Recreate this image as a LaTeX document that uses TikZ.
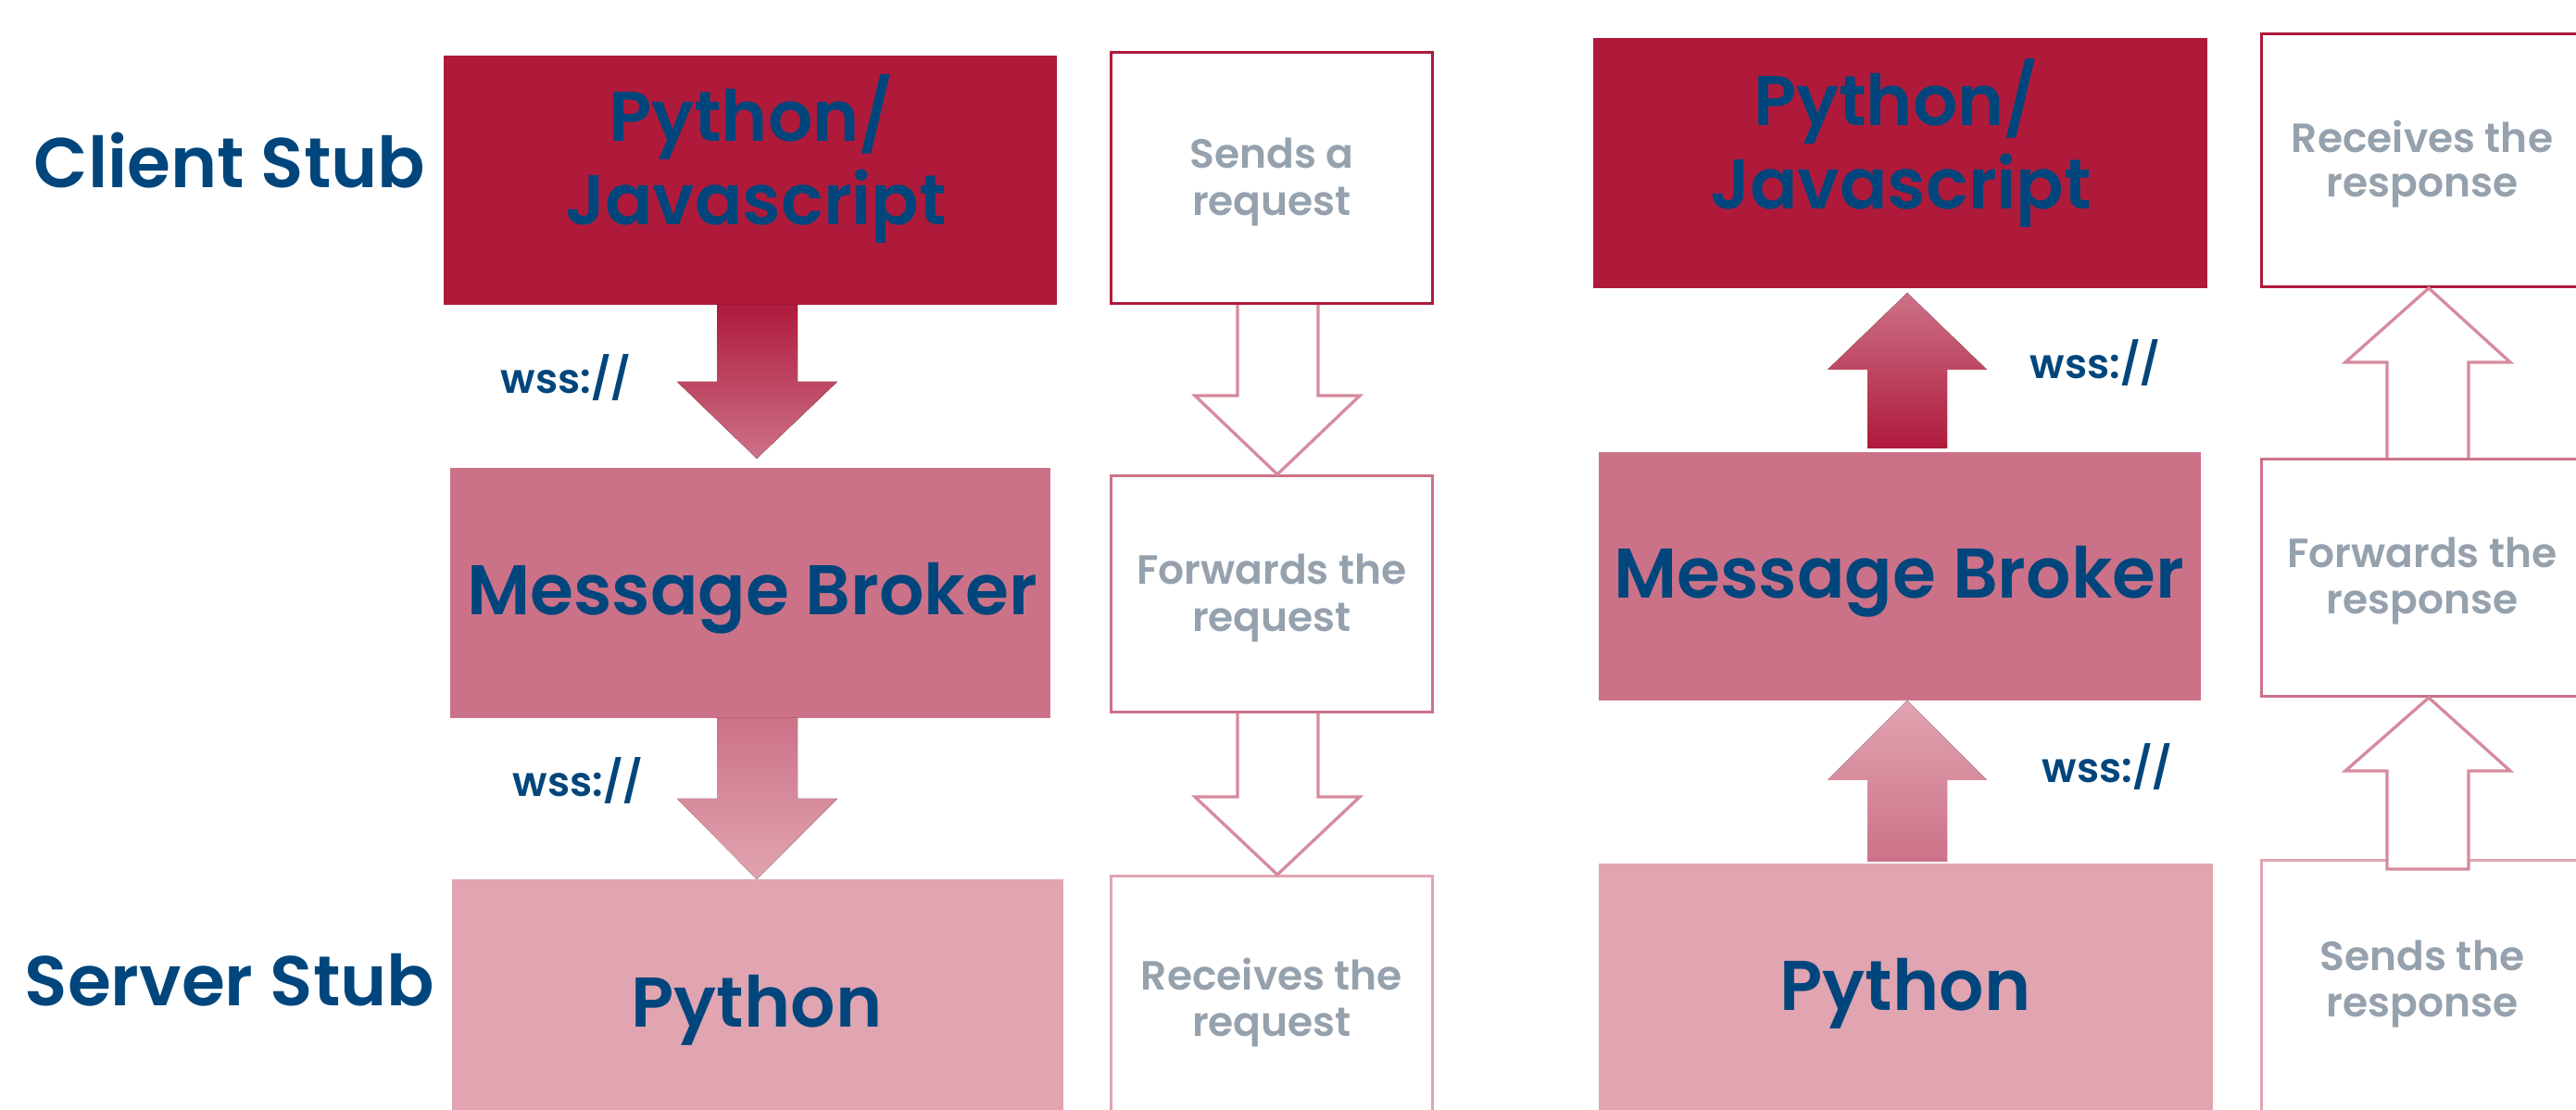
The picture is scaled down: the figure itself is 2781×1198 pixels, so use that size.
\documentclass[tikz,border=0pt]{standalone}
\usepackage{fontspec}
\setmainfont{Poppins}[BoldFont={Poppins SemiBold}]
\definecolor{cDark}{HTML}{AF1A3B}
\definecolor{cMid}{HTML}{CC7288}
\definecolor{cLight}{HTML}{E1A4B1}
\definecolor{cBlue}{HTML}{00467C}
\definecolor{cGrey}{HTML}{95A1AD}
\definecolor{cLine}{HTML}{D68B9D}
\begin{document}
\begin{tikzpicture}[x=0.01cm,y=-0.01cm,
  fbox/.style={rectangle, inner sep=0pt, outer sep=0pt},
  obox/.style={rectangle, inner sep=0pt, outer sep=0pt, draw, line width=0.035cm, fill=white},
  big/.style={text=cBlue, font=\fontsize{21.6}{26}\selectfont\bfseries, anchor=base, inner sep=0pt},
  small/.style={text=cGrey, font=\fontsize{12.5}{15}\selectfont\bfseries, anchor=base, inner sep=0pt},
  proto/.style={text=cBlue, font=\fontsize{12.6}{15}\selectfont\bfseries, anchor=base, inner sep=0pt},
  oarrow/.style={draw=cLine, line width=0.033cm, line join=miter},
]
\useasboundingbox (0,0) rectangle (2781,1198);

% ---------- left panel: filled boxes ----------
\node[fbox, fill=cDark,  minimum width=6.62cm, minimum height=2.69cm] (L1) at (810,194.5) {};
\node[fbox, fill=cMid,   minimum width=6.48cm, minimum height=2.70cm] (L2) at (810,640) {};
\node[fbox, fill=cLight, minimum width=6.60cm, minimum height=2.66cm] (L3) at (818,1082) {};

% ---------- left panel: outlined boxes ----------
\node[obox, draw=cDark,  minimum width=3.47cm, minimum height=2.71cm] (O1) at (1373,192) {};
\node[obox, draw=cMid,   minimum width=3.47cm, minimum height=2.55cm] (O2) at (1373,641) {};
\node[obox, draw=cLight, minimum width=3.47cm, minimum height=2.695cm] (O3) at (1373,1080.25) {};

% ---------- right panel: filled boxes ----------
\node[fbox, fill=cDark,  minimum width=6.63cm, minimum height=2.70cm] (R1) at (2051.5,176) {};
\node[fbox, fill=cMid,   minimum width=6.50cm, minimum height=2.68cm] (R2) at (2051,622) {};
\node[fbox, fill=cLight, minimum width=6.63cm, minimum height=2.83cm] (R3) at (2057.5,1073.5) {};

% ---------- right panel: outlined boxes ----------
\node[obox, draw=cDark,  minimum width=3.47cm, minimum height=2.73cm] (P1) at (2615,173) {};
\node[obox, draw=cMid,   minimum width=3.47cm, minimum height=2.56cm] (P2) at (2615,623.5) {};
\node[obox, draw=cLight, minimum width=3.47cm, minimum height=2.865cm] (P3) at (2615,1071.75) {};

% ---------- filled block arrows ----------
\fill[top color=cDark, bottom color=cMid]
  (774,329) -- (861,329) -- (861,412) -- (904,412) -- (817,495) -- (731,412) -- (774,412) -- cycle;
\fill[top color=cMid, bottom color=cLight]
  (774,775) -- (861,775) -- (861,862) -- (904,862) -- (817,949) -- (731,862) -- (774,862) -- cycle;
\fill[top color=cMid, bottom color=cDark]
  (2016,484) -- (2102,484) -- (2102,399) -- (2145,399) -- (2059,316) -- (1973,399) -- (2016,399) -- cycle;
\fill[top color=cLight, bottom color=cMid]
  (2016,930) -- (2102,930) -- (2102,842) -- (2145,842) -- (2059,756) -- (1973,842) -- (2016,842) -- cycle;

% ---------- outlined block arrows ----------
\draw[oarrow] (1336,329) -- (1336,427) -- (1290,427) -- (1379,512) -- (1468,427) -- (1423,427) -- (1423,329);
\draw[oarrow] (1336,770) -- (1336,860) -- (1290,860) -- (1379,944) -- (1468,860) -- (1423,860) -- (1423,770);
\draw[oarrow] (2577,494) -- (2577,391) -- (2532,391) -- (2622,311) -- (2710,391) -- (2665,391) -- (2665,494);
\draw[oarrow, fill=white] (2577,938) -- (2577,832) -- (2532,832) -- (2622,753) -- (2710,832) -- (2665,832) -- (2665,938) -- cycle;

% ---------- labels ----------
\node[big] (cs) at (248,203) {Client Stub};
\node[big] (ss) at (248,1086) {Server Stub};

\node[big] (l1a) at (811,153) {Python/};
\node[big] (l1b) at (816,243) {Javascript};
\node[big] (l2) at (812,664) {Message Broker};
\node[big] (l3) at (817,1109) {Python};

\node[big] (r1a) at (2047,136) {Python/};
\node[big] (r1b) at (2052,226) {Javascript};
\node[big] (r2) at (2050,646) {Message Broker};
\node[big] (r3) at (2057,1091) {Python};

\node[proto] (w1) at (611,425) {wss://};
\node[proto] (w2) at (624,860) {wss://};
\node[proto] (w3) at (2262,409) {wss://};
\node[proto] (w4) at (2275,845) {wss://};

\node[small] (o1a) at (1373,182) {Sends a};
\node[small] (o1b) at (1373,233) {request};
\node[small] (o2a) at (1373,631) {Forwards the};
\node[small] (o2b) at (1373,682) {request};
\node[small] (o3a) at (1373,1069) {Receives the};
\node[small] (o3b) at (1373,1119) {request};

\node[small] (p1a) at (2615,165) {Receives the};
\node[small] (p1b) at (2615,213) {response};
\node[small] (p2a) at (2615,613) {Forwards the};
\node[small] (p2b) at (2615,663) {response};
\node[small] (p3a) at (2615,1048) {Sends the};
\node[small] (p3b) at (2615,1098) {response};
\end{tikzpicture}
\end{document}
